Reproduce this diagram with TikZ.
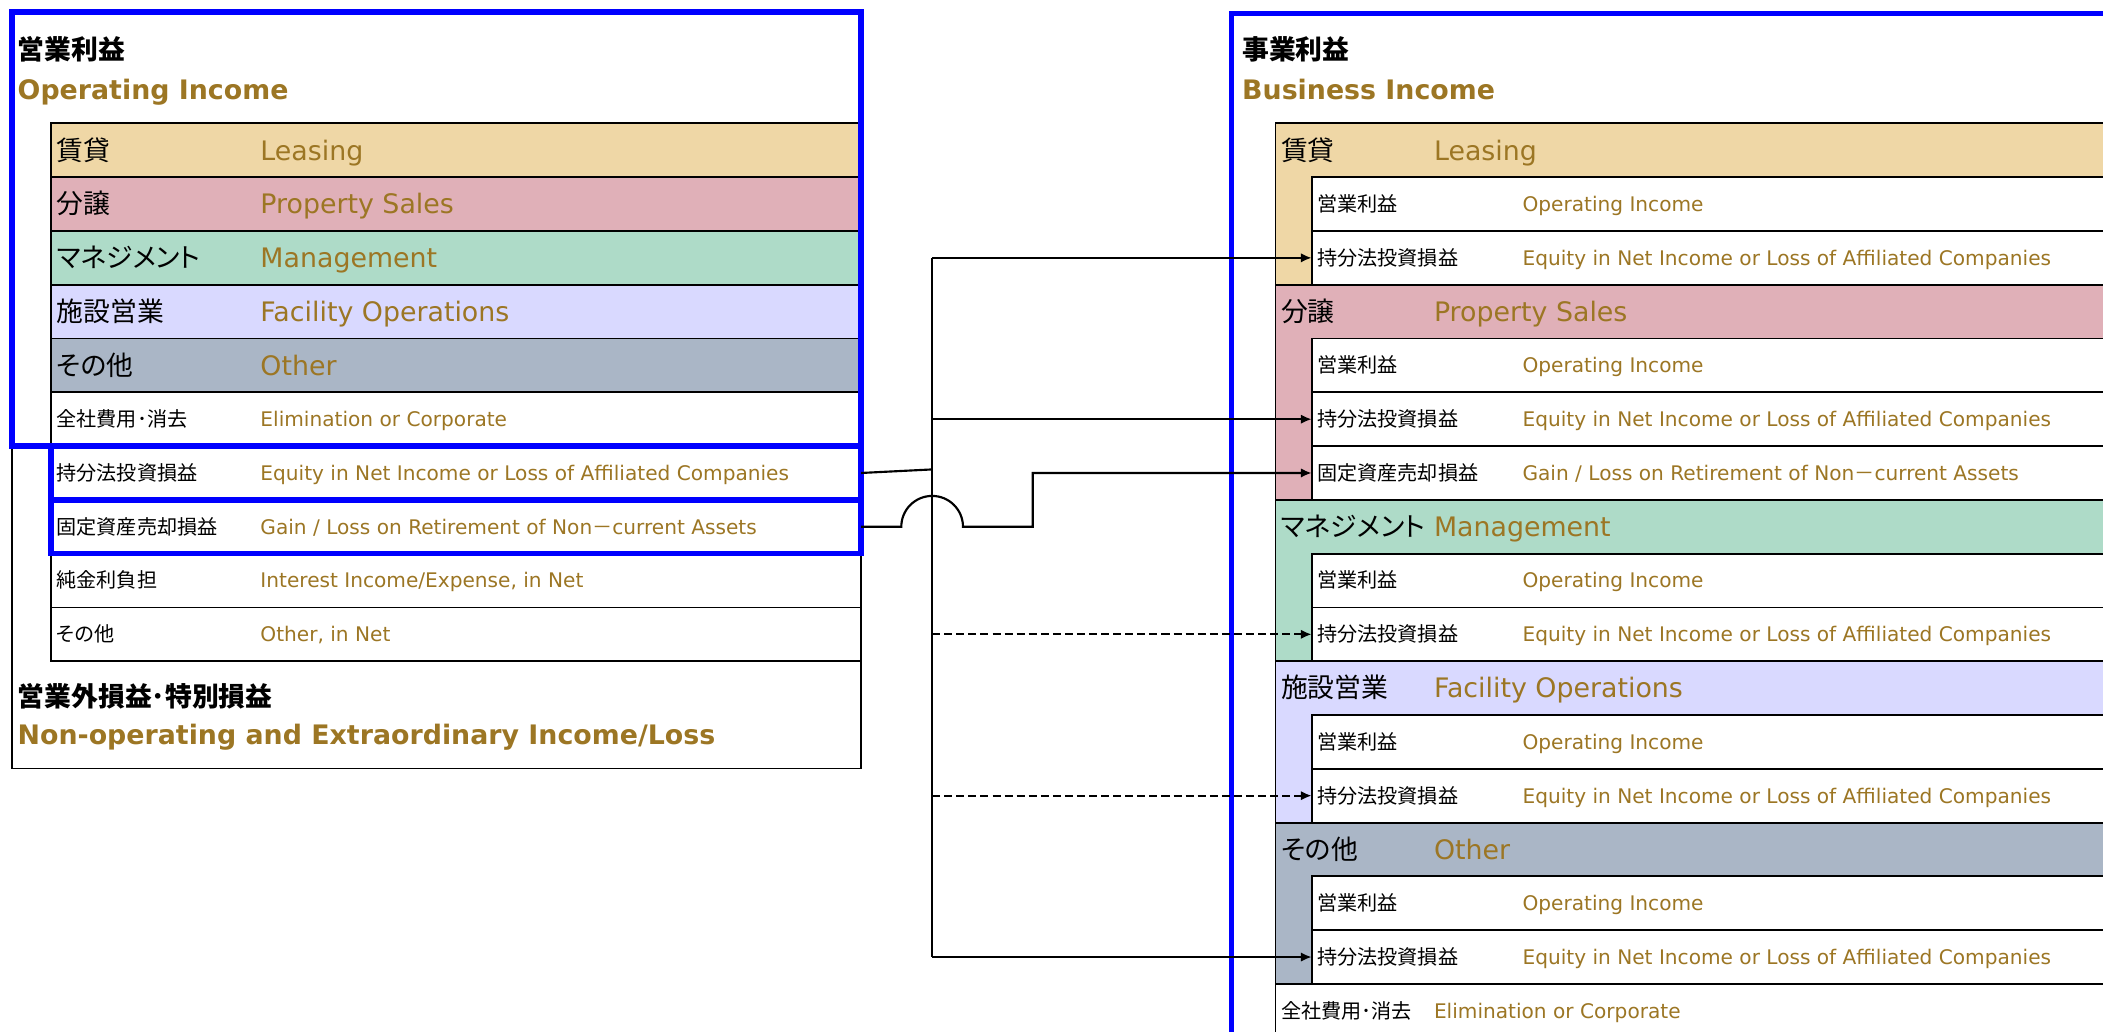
\documentclass[tikz,border=0pt]{standalone}
\usepackage{fontspec}
\setmainfont{DejaVu Sans}
\newfontfamily\jp{Noto Sans CJK JP}[RawFeature=+palt]
\usepackage{tikz}
\usetikzlibrary{arrows.meta}
\usetikzlibrary{positioning}
\usetikzlibrary{calc}
\definecolor{gold}{RGB}{156,118,36}
\definecolor{leasecol}{RGB}{239,215,166}
\definecolor{propcol}{RGB}{224,176,184}
\definecolor{mgmtcol}{RGB}{174,219,200}
\definecolor{faccol}{RGB}{217,217,255}
\definecolor{othcol}{RGB}{170,182,198}
\tikzstyle{row}=[draw=black,line width=1.4pt,rectangle,anchor=north west,inner sep=0pt,outer sep=0pt,minimum height=40.1pt]
\tikzstyle{bluebox}=[draw=blue,line width=4pt]
\tikzstyle{outline}=[draw=black,line width=1.4pt]
\tikzstyle{bigjp}=[anchor=west,inner sep=0pt,font=\jp\fontsize{20}{24}\selectfont,text height=14.8pt,text depth=0pt]
\tikzstyle{bigen}=[anchor=west,inner sep=0pt,text=gold,font=\fontsize{20}{24}\selectfont,text height=14.8pt,text depth=0pt]
\tikzstyle{smalljp}=[anchor=west,inner sep=0pt,font=\jp\fontsize{15}{18}\selectfont,text height=11.1pt,text depth=0pt]
\tikzstyle{smallen}=[anchor=west,inner sep=0pt,text=gold,font=\fontsize{15}{18}\selectfont,text height=11.1pt,text depth=0pt]
\tikzstyle{titlejp}=[anchor=west,inner sep=0pt,font=\jp\bfseries\fontsize{20}{24}\selectfont,text height=14.8pt,text depth=0pt]
\tikzstyle{titleen}=[anchor=west,inner sep=0pt,text=gold,font=\bfseries\fontsize{20}{24}\selectfont,text height=14.8pt,text depth=0pt]
\tikzstyle{conn}=[draw=black,line width=1.6pt]
\tikzstyle{dashconn}=[conn,dash pattern=on 6pt off 3pt]

\begin{document}
\begin{tikzpicture}[x=1pt,y=-1pt,>={Latex[length=8pt,width=7pt]}]
\useasboundingbox (0,0) rectangle (1568,769);

% left side: operating income
\draw[outline] (9,9) rectangle (642,573);
\node[titlejp] (lTitleJ) at (13,37) {営業利益};
\node[titleen] (lTitleE) at (13,67) {Operating Income};

\node[row,fill=leasecol,minimum width=604pt] (lLease) at (38,92) {};
\node[row,fill=propcol,minimum width=604pt] (lProp) at (lLease.south west) {};
\node[row,fill=mgmtcol,minimum width=604pt] (lMgmt) at (lProp.south west) {};
\node[row,fill=faccol,minimum width=604pt] (lFac) at (lMgmt.south west) {};
\node[row,fill=othcol,minimum width=604pt] (lOth) at (lFac.south west) {};
\node[row,fill=white,minimum width=604pt] (lElim) at (lOth.south west) {};
\node[row,fill=white,minimum width=604pt] (lEq) at (lElim.south west) {};
\node[row,fill=white,minimum width=604pt] (lFix) at (lEq.south west) {};
\node[row,fill=white,minimum width=604pt] (lInt) at (lFix.south west) {};
\node[row,fill=white,minimum width=604pt] (lOthNet) at (lInt.south west) {};

\node[bigjp] (lLeaseJ) at ([xshift=4pt]lLease.west) {賃貸};
\node[bigen] (lLeaseE) at ([xshift=156pt]lLease.west) {Leasing};
\node[bigjp] (lPropJ) at ([xshift=4pt]lProp.west) {分譲};
\node[bigen] (lPropE) at ([xshift=156pt]lProp.west) {Property Sales};
\node[bigjp] (lMgmtJ) at ([xshift=4pt]lMgmt.west) {マネジメント};
\node[bigen] (lMgmtE) at ([xshift=156pt]lMgmt.west) {Management};
\node[bigjp] (lFacJ) at ([xshift=4pt]lFac.west) {施設営業};
\node[bigen] (lFacE) at ([xshift=156pt]lFac.west) {Facility Operations};
\node[bigjp] (lOthJ) at ([xshift=4pt]lOth.west) {その他};
\node[bigen] (lOthE) at ([xshift=156pt]lOth.west) {Other};
\node[smalljp] (lElimJ) at ([xshift=4pt]lElim.west) {全社費用･消去};
\node[smallen] (lElimE) at ([xshift=156pt]lElim.west) {Elimination or Corporate};
\node[smalljp] (lEqJ) at ([xshift=4pt]lEq.west) {持分法投資損益};
\node[smallen] (lEqE) at ([xshift=156pt]lEq.west) {Equity in Net Income or Loss of Affiliated Companies};
\node[smalljp] (lFixJ) at ([xshift=4pt]lFix.west) {固定資産売却損益};
\node[smallen] (lFixE) at ([xshift=156pt]lFix.west) {Gain / Loss on Retirement of Non{\jp －}current Assets};
\node[smalljp] (lIntJ) at ([xshift=4pt]lInt.west) {純金利負担};
\node[smallen] (lIntE) at ([xshift=156pt]lInt.west) {Interest Income/Expense, in Net};
\node[smalljp] (lOthNetJ) at ([xshift=4pt]lOthNet.west) {その他};
\node[smallen] (lOthNetE) at ([xshift=156pt]lOthNet.west) {Other, in Net};

\node[titlejp] (lNonOpJ) at (13,519) {営業外損益･特別損益};
\node[titleen] (lNonOpE) at (13,548) {Non-operating and Extraordinary Income/Loss};

\draw[bluebox] (9,9) rectangle (lElim.south east);
\draw[bluebox] (lEq.north west) rectangle (lEq.south east);
\draw[bluebox] (lFix.north west) rectangle (lFix.south east);

% right side: business income
\node[titlejp] (rTitleJ) at (926,37) {事業利益};
\node[titleen] (rTitleE) at (926,67) {Business Income};

\node[row,fill=leasecol,minimum width=640pt,minimum height=120.3pt] (rLease) at (951,92) {};
\node[row,fill=propcol,minimum width=640pt,minimum height=160.4pt] (rProp) at (rLease.south west) {};
\node[row,fill=mgmtcol,minimum width=640pt,minimum height=120.3pt] (rMgmt) at (rProp.south west) {};
\node[row,fill=faccol,minimum width=640pt,minimum height=120.3pt] (rFac) at (rMgmt.south west) {};
\node[row,fill=othcol,minimum width=640pt,minimum height=120.3pt] (rOth) at (rFac.south west) {};
\node[row,fill=white,minimum width=640pt] (rElim) at (rOth.south west) {};

\foreach \seg/\jtext/\etext in {rLease/賃貸/Leasing,rProp/分譲/Property Sales,rMgmt/マネジメント/Management,rFac/施設営業/Facility Operations,rOth/その他/Other}{
  \node[bigjp] (\seg J) at ([xshift=4pt,yshift=-20pt]\seg.north west) {\jtext};
  \node[bigen] (\seg E) at ([xshift=118pt,yshift=-20pt]\seg.north west) {\etext};
  \node[row,fill=white,minimum width=620pt] (\seg Op) at ([xshift=27pt,yshift=-40.1pt]\seg.north west) {};
  \node[row,fill=white,minimum width=620pt] (\seg Eq) at (\seg Op.south west) {};
  \node[smalljp] (\seg OpJ) at ([xshift=4pt]\seg Op.west) {営業利益};
  \node[smallen] (\seg OpE) at ([xshift=157pt]\seg Op.west) {Operating Income};
  \node[smalljp] (\seg EqJ) at ([xshift=4pt]\seg Eq.west) {持分法投資損益};
  \node[smallen] (\seg EqE) at ([xshift=157pt]\seg Eq.west) {Equity in Net Income or Loss of Affiliated Companies};
}
\node[row,fill=white,minimum width=620pt] (rPropFix) at (rPropEq.south west) {};
\node[smalljp] (rPropFixJ) at ([xshift=4pt]rPropFix.west) {固定資産売却損益};
\node[smallen] (rPropFixE) at ([xshift=157pt]rPropFix.west) {Gain / Loss on Retirement of Non{\jp －}current Assets};
\node[smalljp] (rElimJ) at ([xshift=4pt]rElim.west) {全社費用･消去};
\node[smallen] (rElimE) at ([xshift=118pt]rElim.west) {Elimination or Corporate};

\draw[bluebox] (918,790) -- (918,10) -- (1590,10);

% connectors
\coordinate (trunk) at (695,350);
\draw[conn] (lEq.east) -- (trunk);
\draw[conn] (trunk |- rLeaseEq.west) -- (trunk |- rOthEq.west);
\draw[conn,->] (trunk |- rLeaseEq.west) -- (rLeaseEq.west);
\draw[conn,->] (trunk |- rPropEq.west) -- (rPropEq.west);
\draw[dashconn,->] (trunk |- rMgmtEq.west) -- (rMgmtEq.west);
\draw[dashconn,->] (trunk |- rFacEq.west) -- (rFacEq.west);
\draw[conn,->] (trunk |- rOthEq.west) -- (rOthEq.west);
\coordinate (hop) at (trunk |- lFix.east);
\draw[conn,->] (lFix.east) -- ([xshift=-23pt]hop) arc[start angle=180,end angle=0,radius=23pt] -- ++(52,0) |- (rPropFix.west);
\end{tikzpicture}
\end{document}
